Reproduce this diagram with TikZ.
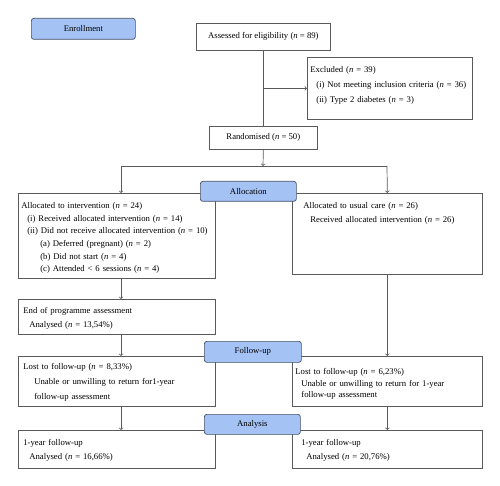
\documentclass[tikz,border=0pt]{standalone}
\usepackage{fontspec}
\setmainfont{Liberation Serif}
\usepackage{xcolor}
\usetikzlibrary{positioning, arrows}

\definecolor{phaseblue}{RGB}{164,194,244}
\definecolor{phaseedge}{RGB}{70,80,100}
\definecolor{linegray}{RGB}{90,90,90}
\newcommand{\nval}[1]{(\textit{n} = #1)}

\tikzset{
	stage/.style={draw=phaseedge, fill=phaseblue, rounded corners=2.5pt, anchor=north west, inner sep=0pt, line width=0.7pt, font=\fontsize{8.7}{11}\selectfont},
	plainbox/.style={draw=linegray, anchor=north west, inner sep=0pt, line width=0.7pt, font=\fontsize{8.7}{11}\selectfont},
	infobox/.style={draw=linegray, anchor=north west, align=left, inner xsep=3pt, inner ysep=0pt, line width=0.7pt, font=\fontsize{8.7}{#1}\selectfont},
	infobox/.default=13,
	arr/.style={->, draw=linegray, line width=0.7pt},
}

\begin{document}
\begin{tikzpicture}[x=1pt, y=-1pt]
	\useasboundingbox (0,0) rectangle (500,486);
	
	% boxes
	\node[plainbox, minimum width=134pt, minimum height=27pt] (assess) at (196,23) {Assessed for eligibility \nval{89}};
	\node[infobox=15, text width=159pt, text height=15pt, text depth=47pt] (excl) at (307,57) {Excluded \nval{39}\\
		\mbox{\hspace*{6pt}(i) Not meeting inclusion criteria \nval{36}}\\
		\hspace*{6pt}(ii) Type 2 diabetes \nval{3}};
	\node[plainbox, minimum width=108pt, minimum height=23pt] (rand) at (209,126) {Randomised \nval{50}};
	
	\node[infobox=12.7, text width=191pt, text height=15pt, text depth=70pt] (leftalloc) at (18,193) {Allocated to intervention \nval{24}\\
		\hspace*{6pt}(i) Received allocated intervention \nval{14}\\
		\mbox{\hspace*{6pt}(ii) Did not receive allocated intervention \nval{10}}\\
		\hspace*{19pt}(a) Deferred (pregnant) \nval{2}\\
		\hspace*{19pt}(b) Did not start \nval{4}\\
		\hspace*{19pt}(c) Attended < 6 sessions \nval{4}};
	\node[infobox=14, text width=184pt, text height=15pt, text depth=66pt] (rightalloc) at (292,193) {\hspace*{8pt}Allocated to usual care \nval{26}\\
		\hspace*{15pt}Received allocated intervention \nval{26}};
	
	\node[infobox=14, text width=191pt, text height=14.3pt, text depth=20.7pt] (endprog) at (18,299) {\hspace*{2pt}End of programme assessment\\
		\hspace*{8pt}Analysed \nval{13,54\%}};
	
	\node[infobox=15, text width=191pt, text height=13pt, text depth=37pt] (lostL) at (18,356) {\hspace*{2pt}Lost to follow-up \nval{8,33\%}\\
		\hspace*{13pt}Unable or unwilling to return for1-year\\
		\hspace*{13pt}follow-up assessment};
	\node[infobox=11.7, text width=184pt, text height=18pt, text depth=32pt] (lostR) at (292,356) {Lost to follow-up \nval{6,23\%}\\
		\hspace*{6pt}Unable or unwilling to return for 1-year\\
		\hspace*{6pt}follow-up assessment};
	
	\node[infobox=13.7, text width=191pt, text height=15.3pt, text depth=22.7pt] (finL) at (18,430) {\hspace*{2pt}1-year follow-up\\
		\hspace*{8pt}Analysed \nval{16,66\%}};
	\node[infobox=13.7, text width=184pt, text height=15.3pt, text depth=22.7pt] (finR) at (292,430) {\hspace*{6pt}1-year follow-up\\
		\hspace*{11pt}Analysed \nval{20,76\%}};
	
	% connectors
	\coordinate (split) at (263,166);
	\coordinate (splitL) at (121,166);
	\coordinate (splitR) at (387,166);
	\draw[draw=linegray, line width=0.7pt] (assess.south) -- (assess.south |- rand.north);
	\draw[arr] (assess.south |- excl.west) -- (excl.west);
	\draw[arr] (rand.south) -- (split);
	\draw[draw=linegray, line width=0.7pt] (splitL) -- (splitR);
	\draw[arr] (splitL) -- (splitL |- leftalloc.north);
	\draw[arr] (splitR) -- (rightalloc.north);
	\draw[arr] (splitL |- leftalloc.south) -- (splitL |- endprog.north);
	\draw[arr] (splitL |- endprog.south) -- (splitL |- lostL.north);
	\draw[arr] (rightalloc.south) -- (lostR.north);
	\draw[arr] (splitL |- lostL.south) -- (splitL |- finL.north);
	\draw[arr] (lostR.south) -- (finR.north);
	
	% phase labels
	\node[stage, minimum width=104pt, minimum height=21pt] (enroll) at (31,18) {Enrollment};
	\node[stage, minimum width=96pt, minimum height=20pt] (alloc) at (200,181) {Allocation};
	\node[stage, minimum width=97pt, minimum height=21pt] (follow) at (204,341) {Follow-up};
	\node[stage, minimum width=96pt, minimum height=20pt] (analysis) at (204,414) {Analysis};
\end{tikzpicture}
\end{document}
